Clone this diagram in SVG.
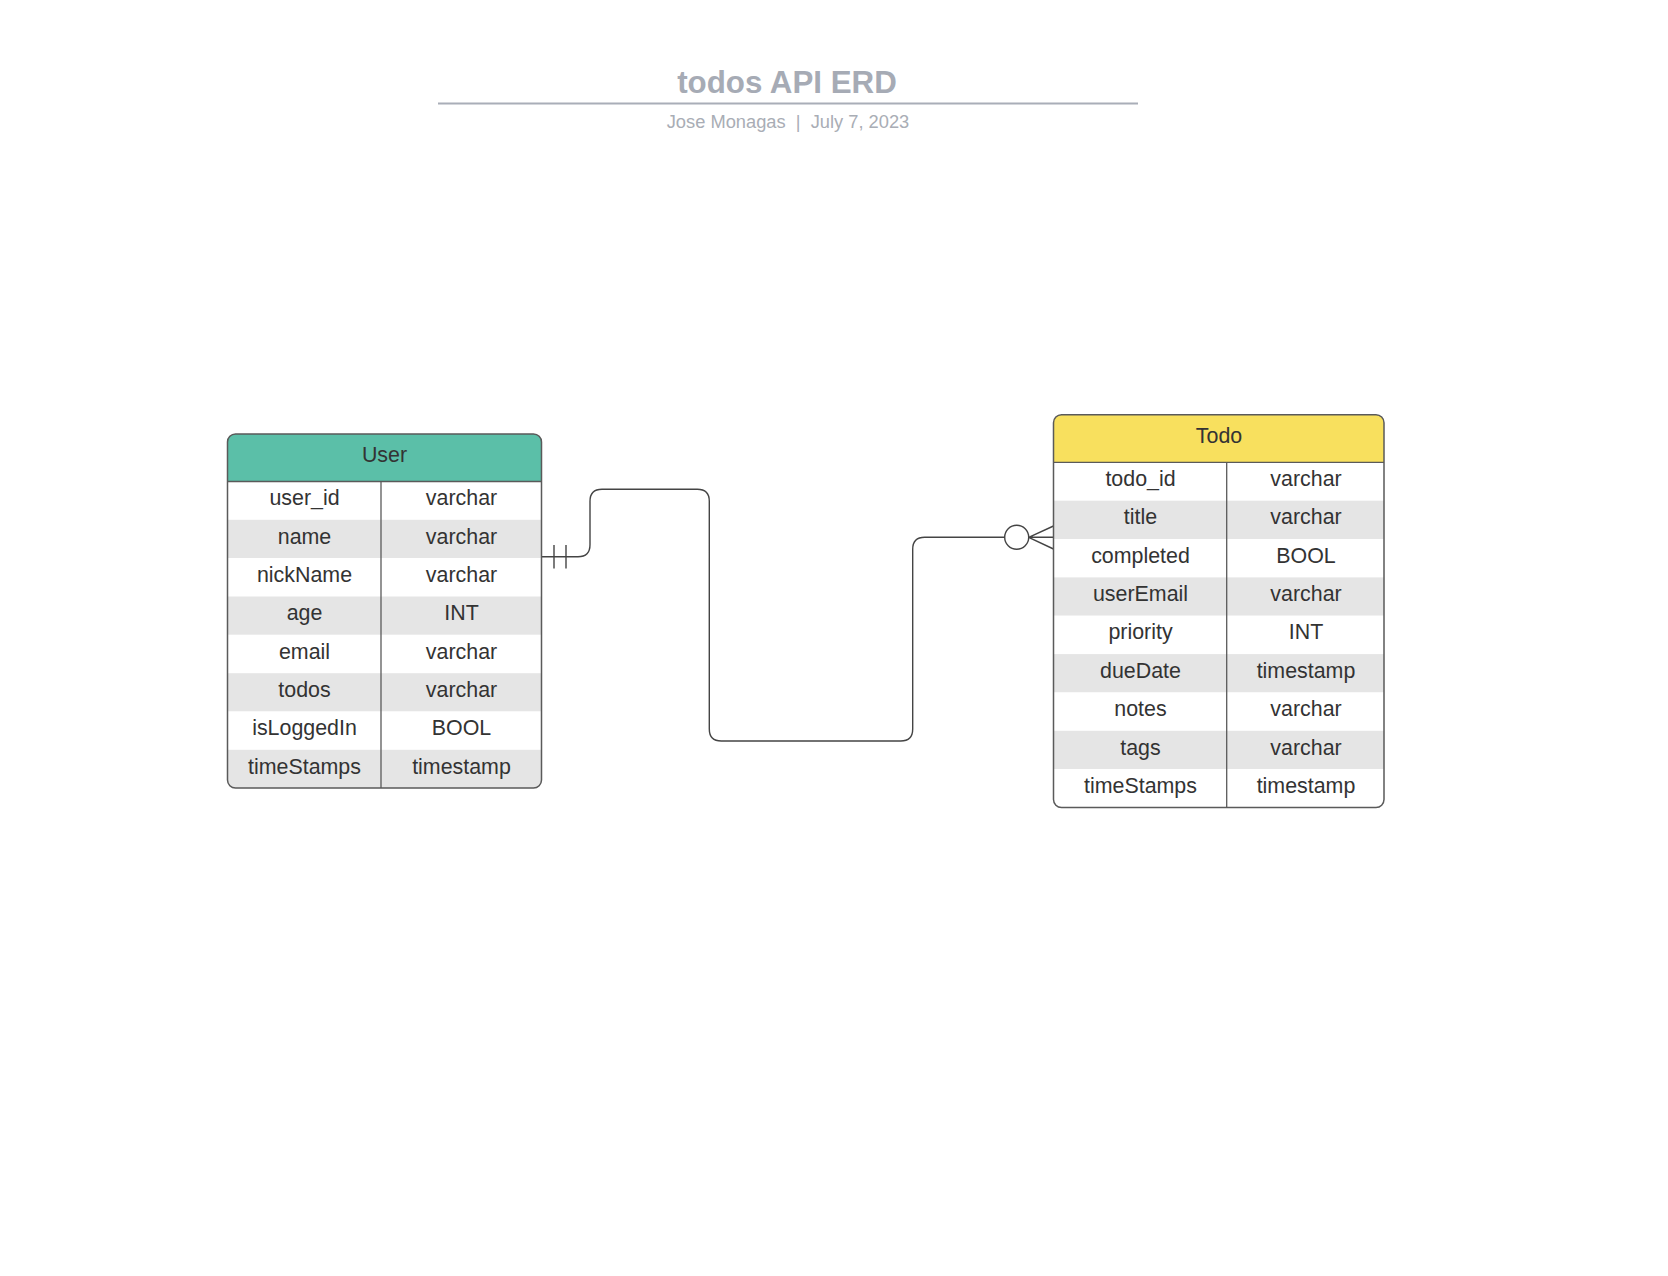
<svg xmlns="http://www.w3.org/2000/svg" width="1668" height="1276" viewBox="0 0 1668 1276">
<style>
.t{font-family:"Liberation Sans",Arial,sans-serif;font-size:21.4px;fill:#333333;text-anchor:middle}
.g{fill:#e5e5e5}
.w{fill:#ffffff}
.frame{fill:none;stroke:#5a5a5a;stroke-width:1.5}
.div{stroke:#5a5a5a;stroke-width:1.3}
.conn{fill:none;stroke:#444444;stroke-width:1.4}
</style>
<defs>
<clipPath id="cu"><rect x="227.5" y="434" width="314" height="354.1" rx="8"/></clipPath>
<clipPath id="ct"><rect x="1053.5" y="414.7" width="330.5" height="392.8" rx="8"/></clipPath>
</defs>
<rect width="1668" height="1276" fill="#ffffff"/>
<g id="title">
<text x="787" y="92.5" style="font-family:'Liberation Sans',Arial,sans-serif;font-size:31.3px;font-weight:bold;fill:#a6abb5;text-anchor:middle">todos API ERD</text>
<line x1="438" y1="103.5" x2="1138" y2="103.5" stroke="#a9aeb8" stroke-width="2.2"/>
<text x="788" y="128" xml:space="preserve" style="font-family:'Liberation Sans',Arial,sans-serif;font-size:18.3px;fill:#a9adb5;text-anchor:middle;white-space:pre">Jose Monagas  |  July 7, 2023</text>
</g>
<g id="connectors">
<path class="conn" d="M541.5 556.7 H578 Q590 556.7 590 544.7 V501.3 Q590 489.3 602 489.3 H697.3 Q709.3 489.3 709.3 501.3 V729 Q709.3 741 721.3 741 H900.7 Q912.7 741 912.7 729 V549.3 Q912.7 537.3 924.7 537.3 H1004.7"/>
<line class="conn" x1="554" y1="545" x2="554" y2="568.5"/>
<line class="conn" x1="566" y1="545" x2="566" y2="568.5"/>
<circle class="conn" cx="1016.7" cy="537.3" r="12" fill="#ffffff"/>
<path class="conn" d="M1028.7 537.3 H1053.5 M1028.7 537.3 L1053.5 526 M1028.7 537.3 L1053.5 549"/>
</g>
<g id="User">
<g clip-path="url(#cu)">
<rect x="227.5" y="434" width="314" height="47.5" fill="#5bbfa8"/>
<rect class="w" x="227.5" y="481.5" width="314" height="38.33"/>
<rect class="g" x="227.5" y="519.8" width="314" height="38.33"/>
<rect class="w" x="227.5" y="558.2" width="314" height="38.33"/>
<rect class="g" x="227.5" y="596.5" width="314" height="38.33"/>
<rect class="w" x="227.5" y="634.8" width="314" height="38.33"/>
<rect class="g" x="227.5" y="673.2" width="314" height="38.33"/>
<rect class="w" x="227.5" y="711.5" width="314" height="38.33"/>
<rect class="g" x="227.5" y="749.8" width="314" height="38.33"/>
</g>
<line class="div" x1="227.5" y1="481.5" x2="541.5" y2="481.5"/>
<line class="div" x1="381" y1="481.5" x2="381" y2="788.1"/>
<rect class="frame" x="227.5" y="434" width="314" height="354.1" rx="8"/>
<text class="t" x="384.5" y="462">User</text>
<text class="t" x="304.5" y="505.2">user_id</text><text class="t" x="461.5" y="505.2">varchar</text>
<text class="t" x="304.5" y="543.5">name</text><text class="t" x="461.5" y="543.5">varchar</text>
<text class="t" x="304.5" y="581.9">nickName</text><text class="t" x="461.5" y="581.9">varchar</text>
<text class="t" x="304.5" y="620.2">age</text><text class="t" x="461.5" y="620.2">INT</text>
<text class="t" x="304.5" y="658.5">email</text><text class="t" x="461.5" y="658.5">varchar</text>
<text class="t" x="304.5" y="696.9">todos</text><text class="t" x="461.5" y="696.9">varchar</text>
<text class="t" x="304.5" y="735.2">isLoggedIn</text><text class="t" x="461.5" y="735.2">BOOL</text>
<text class="t" x="304.5" y="773.5">timeStamps</text><text class="t" x="461.5" y="773.5">timestamp</text>
</g>
<g id="Todo">
<g clip-path="url(#ct)">
<rect x="1053.5" y="414.7" width="330.5" height="47.6" fill="#f8e05e"/>
<rect class="w" x="1053.5" y="462.3" width="330.5" height="38.36"/>
<rect class="g" x="1053.5" y="500.7" width="330.5" height="38.36"/>
<rect class="w" x="1053.5" y="539" width="330.5" height="38.36"/>
<rect class="g" x="1053.5" y="577.4" width="330.5" height="38.36"/>
<rect class="w" x="1053.5" y="615.7" width="330.5" height="38.36"/>
<rect class="g" x="1053.5" y="654.1" width="330.5" height="38.36"/>
<rect class="w" x="1053.5" y="692.5" width="330.5" height="38.36"/>
<rect class="g" x="1053.5" y="730.8" width="330.5" height="38.36"/>
<rect class="w" x="1053.5" y="769.2" width="330.5" height="38.36"/>
</g>
<line class="div" x1="1053.5" y1="462.3" x2="1384" y2="462.3"/>
<line class="div" x1="1226.7" y1="462.3" x2="1226.7" y2="807.5"/>
<rect class="frame" x="1053.5" y="414.7" width="330.5" height="392.8" rx="8"/>
<text class="t" x="1219" y="442.5">Todo</text>
<text class="t" x="1140.5" y="486">todo_id</text><text class="t" x="1306" y="486">varchar</text>
<text class="t" x="1140.5" y="524.4">title</text><text class="t" x="1306" y="524.4">varchar</text>
<text class="t" x="1140.5" y="562.7">completed</text><text class="t" x="1306" y="562.7">BOOL</text>
<text class="t" x="1140.5" y="601.1">userEmail</text><text class="t" x="1306" y="601.1">varchar</text>
<text class="t" x="1140.5" y="639.4">priority</text><text class="t" x="1306" y="639.4">INT</text>
<text class="t" x="1140.5" y="677.8">dueDate</text><text class="t" x="1306" y="677.8">timestamp</text>
<text class="t" x="1140.5" y="716.2">notes</text><text class="t" x="1306" y="716.2">varchar</text>
<text class="t" x="1140.5" y="754.5">tags</text><text class="t" x="1306" y="754.5">varchar</text>
<text class="t" x="1140.5" y="792.9">timeStamps</text><text class="t" x="1306" y="792.9">timestamp</text>
</g>
</svg>
